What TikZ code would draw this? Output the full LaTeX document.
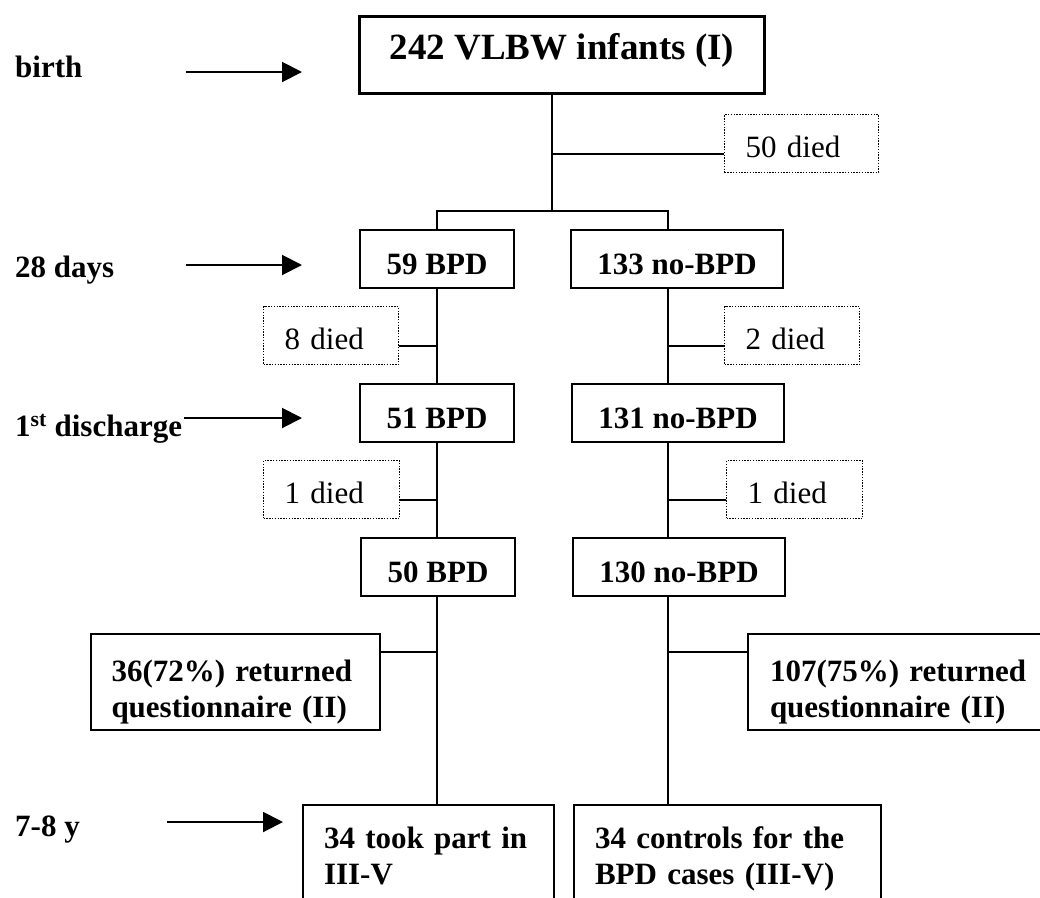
\documentclass[tikz,border=0pt]{standalone}
\usepackage{fontspec}
\setmainfont{Liberation Serif}
\usetikzlibrary{arrows.meta}
\tikzset{
	stage/.style={draw, line width=2pt, inner sep=0pt, anchor=north west, font=\fontsize{31}{36}\selectfont\bfseries, text height=44pt, text depth=14pt},
	died/.style={draw, line width=1.3pt, dash pattern=on 1.4pt off 1.4pt, inner ysep=0pt, inner xsep=21pt, align=left, anchor=north west, font=\fontsize{31}{36}\selectfont, text height=43pt, text depth=15pt},
	period/.style={anchor=base west, inner sep=0pt, font=\fontsize{31}{36}\selectfont\bfseries},
	timeline/.style={line width=2pt, -{Triangle[length=20pt,width=20pt]}},
	link/.style={line width=2pt}
}

\begin{document}
\begin{tikzpicture}[x=1pt, y=-1pt]
		%%%%% START %%%%%
		
		\useasboundingbox (0,0) rectangle (1040,897);
		\clip (0,0) rectangle (1040,897);
		\fill[white] (0,0) rectangle (1040,897);
		
		\node[period] (birth) at (15,77) {birth};
		\node[period] (days) at (15,277) {28 days};
		\node[period] (disch) at (15,436) {1\textsuperscript{st} discharge};
		\node[period] (years) at (15,836) {7-8 y};
		
		\coordinate (birthA) at (186,72);
		\coordinate (birthB) at (302,72);
		\coordinate (daysA) at (186,265);
		\coordinate (daysB) at (302,265);
		\coordinate (dischA) at (184,418);
		\coordinate (dischB) at (302,418);
		\coordinate (yearsA) at (167,822);
		\coordinate (yearsB) at (283,822);
		\draw[timeline] (birthA) -- (birthB);
		\draw[timeline] (daysA) -- (daysB);
		\draw[timeline] (dischA) -- (dischB);
		\draw[timeline] (yearsA) -- (yearsB);
		
		\node[stage, minimum width=405pt, line width=3pt, font=\fontsize{37}{44}\selectfont\bfseries, text height=43pt, text depth=34pt] (vlbw) at (358,15) {242 VLBW infants (I)};
		
		\node[stage, minimum width=154pt] (bpd59) at (359,229) {59 BPD};
		\node[stage, minimum width=212pt] (nobpd133) at (570,229) {133 no-BPD};
		\node[stage, minimum width=154pt] (bpd51) at (359,383) {51 BPD};
		\node[stage, minimum width=212pt] (nobpd131) at (571,383) {131 no-BPD};
		\node[stage, minimum width=154pt] (bpd50) at (360,537) {50 BPD};
		\node[stage, minimum width=212pt] (nobpd130) at (572,537) {130 no-BPD};
		
		\node[died, text width=112pt] (d50) at (724,114) {50 died};
		\node[died, text width=93pt] (d8) at (263,306) {8 died};
		\node[died, text width=93pt] (d2) at (724,306) {2 died};
		\node[died, text width=94pt] (d1a) at (263,460) {1 died};
		\node[died, text width=94pt] (d1b) at (726,460) {1 died};
		
		\node[stage, text width=248pt, inner xsep=20.5pt, align=left, text height=47pt, text depth=49pt] (q36) at (90,633) {\makebox[\linewidth][s]{36(72\%) returned}\\questionnaire (II)};
		\node[stage, text width=265pt, inner xsep=22pt, align=left, text height=47pt, text depth=49pt] (q107) at (747,633) {\makebox[\linewidth][s]{107(75\%) returned}\\questionnaire (II)};
		
		\node[stage, text width=209pt, inner xsep=21pt, align=left, text height=43pt, text depth=160pt] (took) at (302,804) {\makebox[\linewidth][s]{34 took part in}\\III-V};
		\node[stage, text width=265pt, inner xsep=21pt, align=left, text height=43pt, text depth=160pt] (ctrl) at (573,804) {\makebox[\linewidth][s]{34 controls for the}\\BPD cases (III-V)};
		
		\coordinate (fork) at (552,211);
		\coordinate (lcol) at (437,0);
		\coordinate (rcol) at (668,0);
		
		\draw[link] (vlbw.south -| fork) -- (fork);
		\draw[link] (bpd59.north -| lcol) -- (fork -| lcol) -- (fork -| rcol) -- (nobpd133.north -| rcol);
		\draw[link] ([yshift=-10pt]d50.west) -- ([yshift=-10pt]d50.west -| fork);
		
		\draw[link] (bpd59.south -| lcol) -- (bpd51.north -| lcol);
		\draw[link] (bpd51.south -| lcol) -- (bpd50.north -| lcol);
		\draw[link] (bpd50.south -| lcol) -- (took.north -| lcol);
		\draw[link] (nobpd133.south -| rcol) -- (nobpd131.north -| rcol);
		\draw[link] (nobpd131.south -| rcol) -- (nobpd130.north -| rcol);
		\draw[link] (nobpd130.south -| rcol) -- (ctrl.north -| rcol);
		
		\draw[link] ([yshift=-10pt]d8.east) -- ([yshift=-10pt]d8.east -| lcol);
		\draw[link] ([yshift=-10pt]d2.west) -- ([yshift=-10pt]d2.west -| rcol);
		\draw[link] ([yshift=-10pt]d1a.east) -- ([yshift=-10pt]d1a.east -| lcol);
		\draw[link] ([yshift=-10pt]d1b.west) -- ([yshift=-10pt]d1b.west -| rcol);
		
		\draw[link] ([yshift=-19pt]q36.north east) -- ([yshift=-19pt]q36.north east -| lcol);
		\draw[link] ([yshift=-19pt]q107.north west) -- ([yshift=-19pt]q107.north west -| rcol);
		
		%%%%% END %%%%%
\end{tikzpicture}
\end{document}
